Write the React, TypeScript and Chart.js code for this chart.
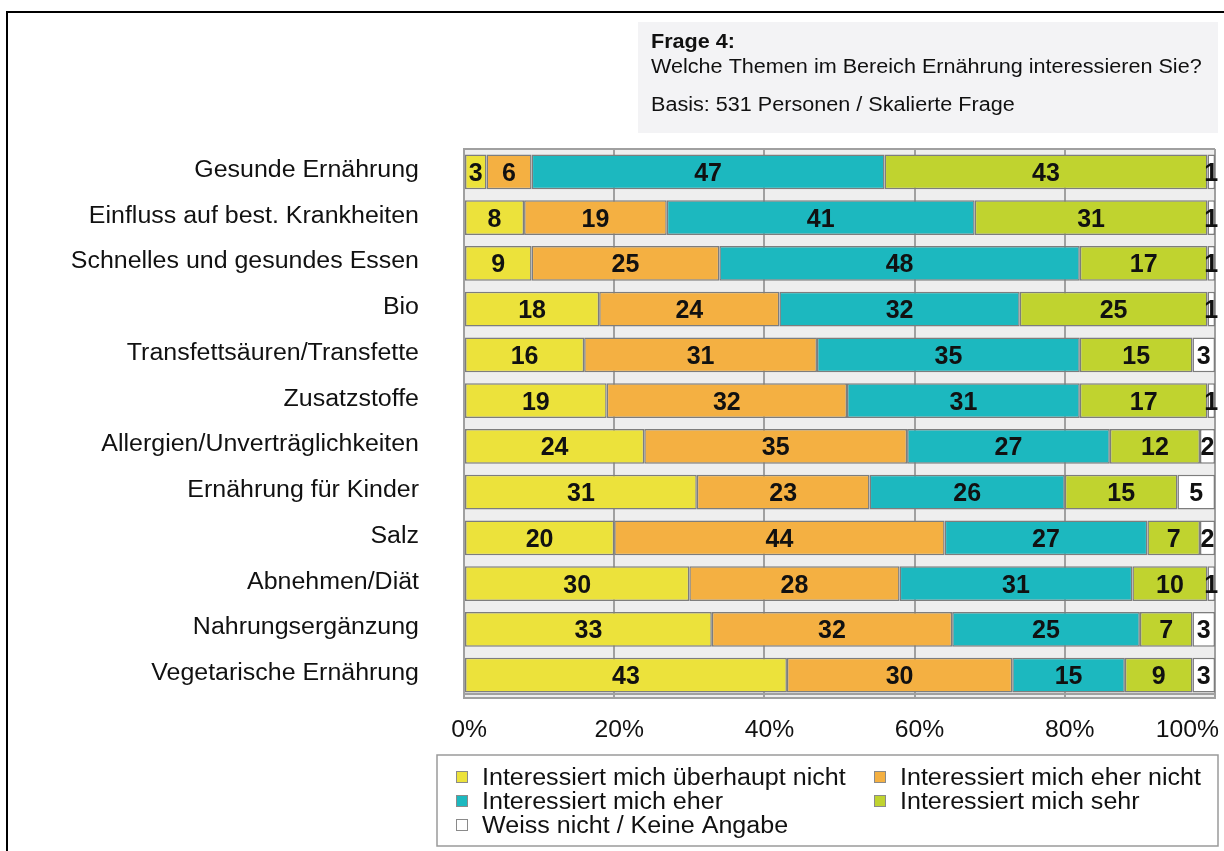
import React, { useEffect, useRef } from "react";
import { Chart, registerables } from "chart.js";

Chart.register(...registerables);

const categories = [
  "Gesunde Ernährung",
  "Einfluss auf best. Krankheiten",
  "Schnelles und gesundes Essen",
  "Bio",
  "Transfettsäuren/Transfette",
  "Zusatzstoffe",
  "Allergien/Unverträglichkeiten",
  "Ernährung für Kinder",
  "Salz",
  "Abnehmen/Diät",
  "Nahrungsergänzung",
  "Vegetarische Ernährung",
];

const seriesNames = [
  "Interessiert mich überhaupt nicht",
  "Interessiert mich eher nicht",
  "Interessiert mich eher",
  "Interessiert mich sehr",
  "Weiss nicht / Keine Angabe",
];

const ueberhauptNicht = [3, 8, 9, 18, 16, 19, 24, 31, 20, 30, 33, 43];
const eherNicht = [6, 19, 25, 24, 31, 32, 35, 23, 44, 28, 32, 30];
const eher = [47, 41, 48, 32, 35, 31, 27, 26, 27, 31, 25, 15];
const sehr = [43, 31, 17, 25, 15, 17, 12, 15, 7, 10, 7, 9];
const weissNicht = [1, 1, 1, 1, 3, 1, 2, 5, 2, 1, 3, 3];

const xTicks = [0, 20, 40, 60, 80, 100];

const titleLines = [
  "Frage 4:",
  "Welche Themen im Bereich Ernährung interessieren Sie?",
  "Basis: 531 Personen / Skalierte Frage",
];

const colors = ["#ece23b", "#f4b042", "#1cb8bf", "#c0d32f", "#ffffff"];

const FONT = '"Liberation Sans", Arial, Helvetica, sans-serif';

function txt(
  ctx: CanvasRenderingContext2D,
  s: string,
  x: number,
  y: number,
  align: CanvasTextAlign,
  font: string,
  sx: number,
  color = "#111111"
) {
  ctx.save();
  ctx.font = font;
  ctx.fillStyle = color;
  ctx.textAlign = align;
  ctx.textBaseline = "alphabetic";
  ctx.translate(x, y);
  ctx.scale(sx, 1);
  ctx.fillText(s, 0, 0);
  ctx.restore();
}

const decorPlugin = {
  id: "decor",
  beforeDraw(chart: any) {
    const ctx = chart.ctx as CanvasRenderingContext2D;
    const a = chart.chartArea;
    ctx.save();
    ctx.fillStyle = "#ffffff";
    ctx.fillRect(0, 0, chart.width, chart.height);
    // frame
    ctx.strokeStyle = "#000000";
    ctx.lineWidth = 2;
    ctx.beginPath();
    ctx.moveTo(7, chart.height);
    ctx.lineTo(7, 12);
    ctx.lineTo(chart.width, 12);
    ctx.stroke();
    // title box
    ctx.fillStyle = "#f3f3f5";
    ctx.fillRect(638, 22, 580, 111);
    // plot background
    ctx.fillStyle = "#eeeeee";
    ctx.fillRect(a.left, a.top, a.right - a.left, a.bottom - a.top);
    ctx.strokeStyle = "#a0a0a0";
    ctx.lineWidth = 2;
    ctx.beginPath();
    ctx.moveTo(a.left, a.top);
    ctx.lineTo(a.right, a.top);
    ctx.moveTo(a.left, a.bottom - 4);
    ctx.lineTo(a.right, a.bottom - 4);
    ctx.stroke();
    ctx.restore();

    txt(ctx, titleLines[0], 651, 48, "left", `bold 20px ${FONT}`, 1.08);
    txt(ctx, titleLines[1], 651, 73, "left", `20px ${FONT}`, 1.08);
    txt(ctx, titleLines[2], 651, 111, "left", `20px ${FONT}`, 1.08);
  },
  afterDatasetsDraw(chart: any) {
    const ctx = chart.ctx as CanvasRenderingContext2D;
    const xs = chart.scales.x;
    const ys = chart.scales.y;
    chart.data.datasets.forEach((ds: any, di: number) => {
      const meta = chart.getDatasetMeta(di);
      meta.data.forEach((bar: any, i: number) => {
        const v = ds.data[i];
        const p = bar.getProps(["x", "base"], true);
        const cx = (p.x + p.base) / 2;
        const cy = ys.getPixelForValue(i);
        txt(ctx, String(v), cx, cy + 9, "center", `bold 25px ${FONT}`, 1.0);
      });
    });
    // category labels
    categories.forEach((c, i) => {
      const cy = ys.getPixelForValue(i);
      txt(ctx, c, 419, cy + 5, "right", `23px ${FONT}`, 1.085);
    });
    // x tick labels
    const tf = `24px ${FONT}`;
    xTicks.forEach((t) => {
      const s = t + "%";
      ctx.save();
      ctx.font = tf;
      const w = ctx.measureText(s).width * 1.03;
      ctx.restore();
      let x = xs.getPixelForValue(t) + 5;
      if (x + w / 2 > 1219) x = 1219 - w / 2;
      txt(ctx, s, x, 737, "center", tf, 1.03);
    });
    // legend
    ctx.save();
    ctx.fillStyle = "#ffffff";
    ctx.fillRect(437, 755, 781, 91);
    ctx.strokeStyle = "#9a9a9a";
    ctx.lineWidth = 1.5;
    ctx.strokeRect(437, 755, 781, 91);
    ctx.restore();
    const pos = [
      [456, 785],
      [874, 785],
      [456, 809],
      [874, 809],
      [456, 833],
    ];
    chart.data.datasets.forEach((ds: any, di: number) => {
      const [mx, by] = pos[di];
      ctx.save();
      ctx.fillStyle = ds.backgroundColor;
      ctx.fillRect(mx, by - 14, 12, 12);
      ctx.strokeStyle = "#8a8a8a";
      ctx.lineWidth = 1;
      ctx.strokeRect(mx + 0.5, by - 13.5, 11, 11);
      ctx.restore();
      txt(ctx, ds.label, mx + 26, by, "left", `23px ${FONT}`, 1.09);
    });
  },
};

export default function App() {
  const ref = useRef<HTMLCanvasElement | null>(null);
  useEffect(() => {
    if (!ref.current) return;
    const series = [ueberhauptNicht, eherNicht, eher, sehr, weissNicht];
    const chart = new Chart(ref.current, {
      type: "bar",
      data: {
        labels: categories,
        datasets: series.map((d, i) => ({
          label: seriesNames[i],
          data: d,
          backgroundColor: colors[i],
          borderColor: "#7d7d7d",
          borderWidth: 1.5,
          borderSkipped: false,
          barPercentage: 0.755,
          categoryPercentage: 1,
        })),
      },
      options: {
        indexAxis: "y",
        responsive: false,
        animation: false,
        devicePixelRatio: 1,
        layout: { padding: { left: 0, top: 149, right: 9, bottom: 0 } },
        plugins: {
          legend: { display: false },
          title: { display: false },
          tooltip: { enabled: false },
        },
        scales: {
          x: {
            stacked: true,
            min: 0,
            max: 100,
            ticks: { display: false, stepSize: 20 },
            grid: { color: "#a0a0a0", lineWidth: 2, drawTicks: false },
            border: { display: true, color: "#a0a0a0", width: 2 },
            afterFit: (s: any) => {
              s.height = 153;
            },
          },
          y: {
            stacked: true,
            ticks: { display: false },
            grid: { display: false, drawTicks: false },
            border: { display: true, color: "#a0a0a0", width: 2 },
            afterFit: (s: any) => {
              s.width = 464;
            },
          },
        },
      } as any,
      plugins: [decorPlugin],
    });
    return () => chart.destroy();
  }, []);
  return (
    <div style={{ position: "fixed", left: 0, top: 0, width: 1224, height: 851, overflow: "hidden", background: "#fff" }}>
      <canvas ref={ref} width={1224} height={851} style={{ display: "block", width: 1224, height: 851 }} />
    </div>
  );
}
